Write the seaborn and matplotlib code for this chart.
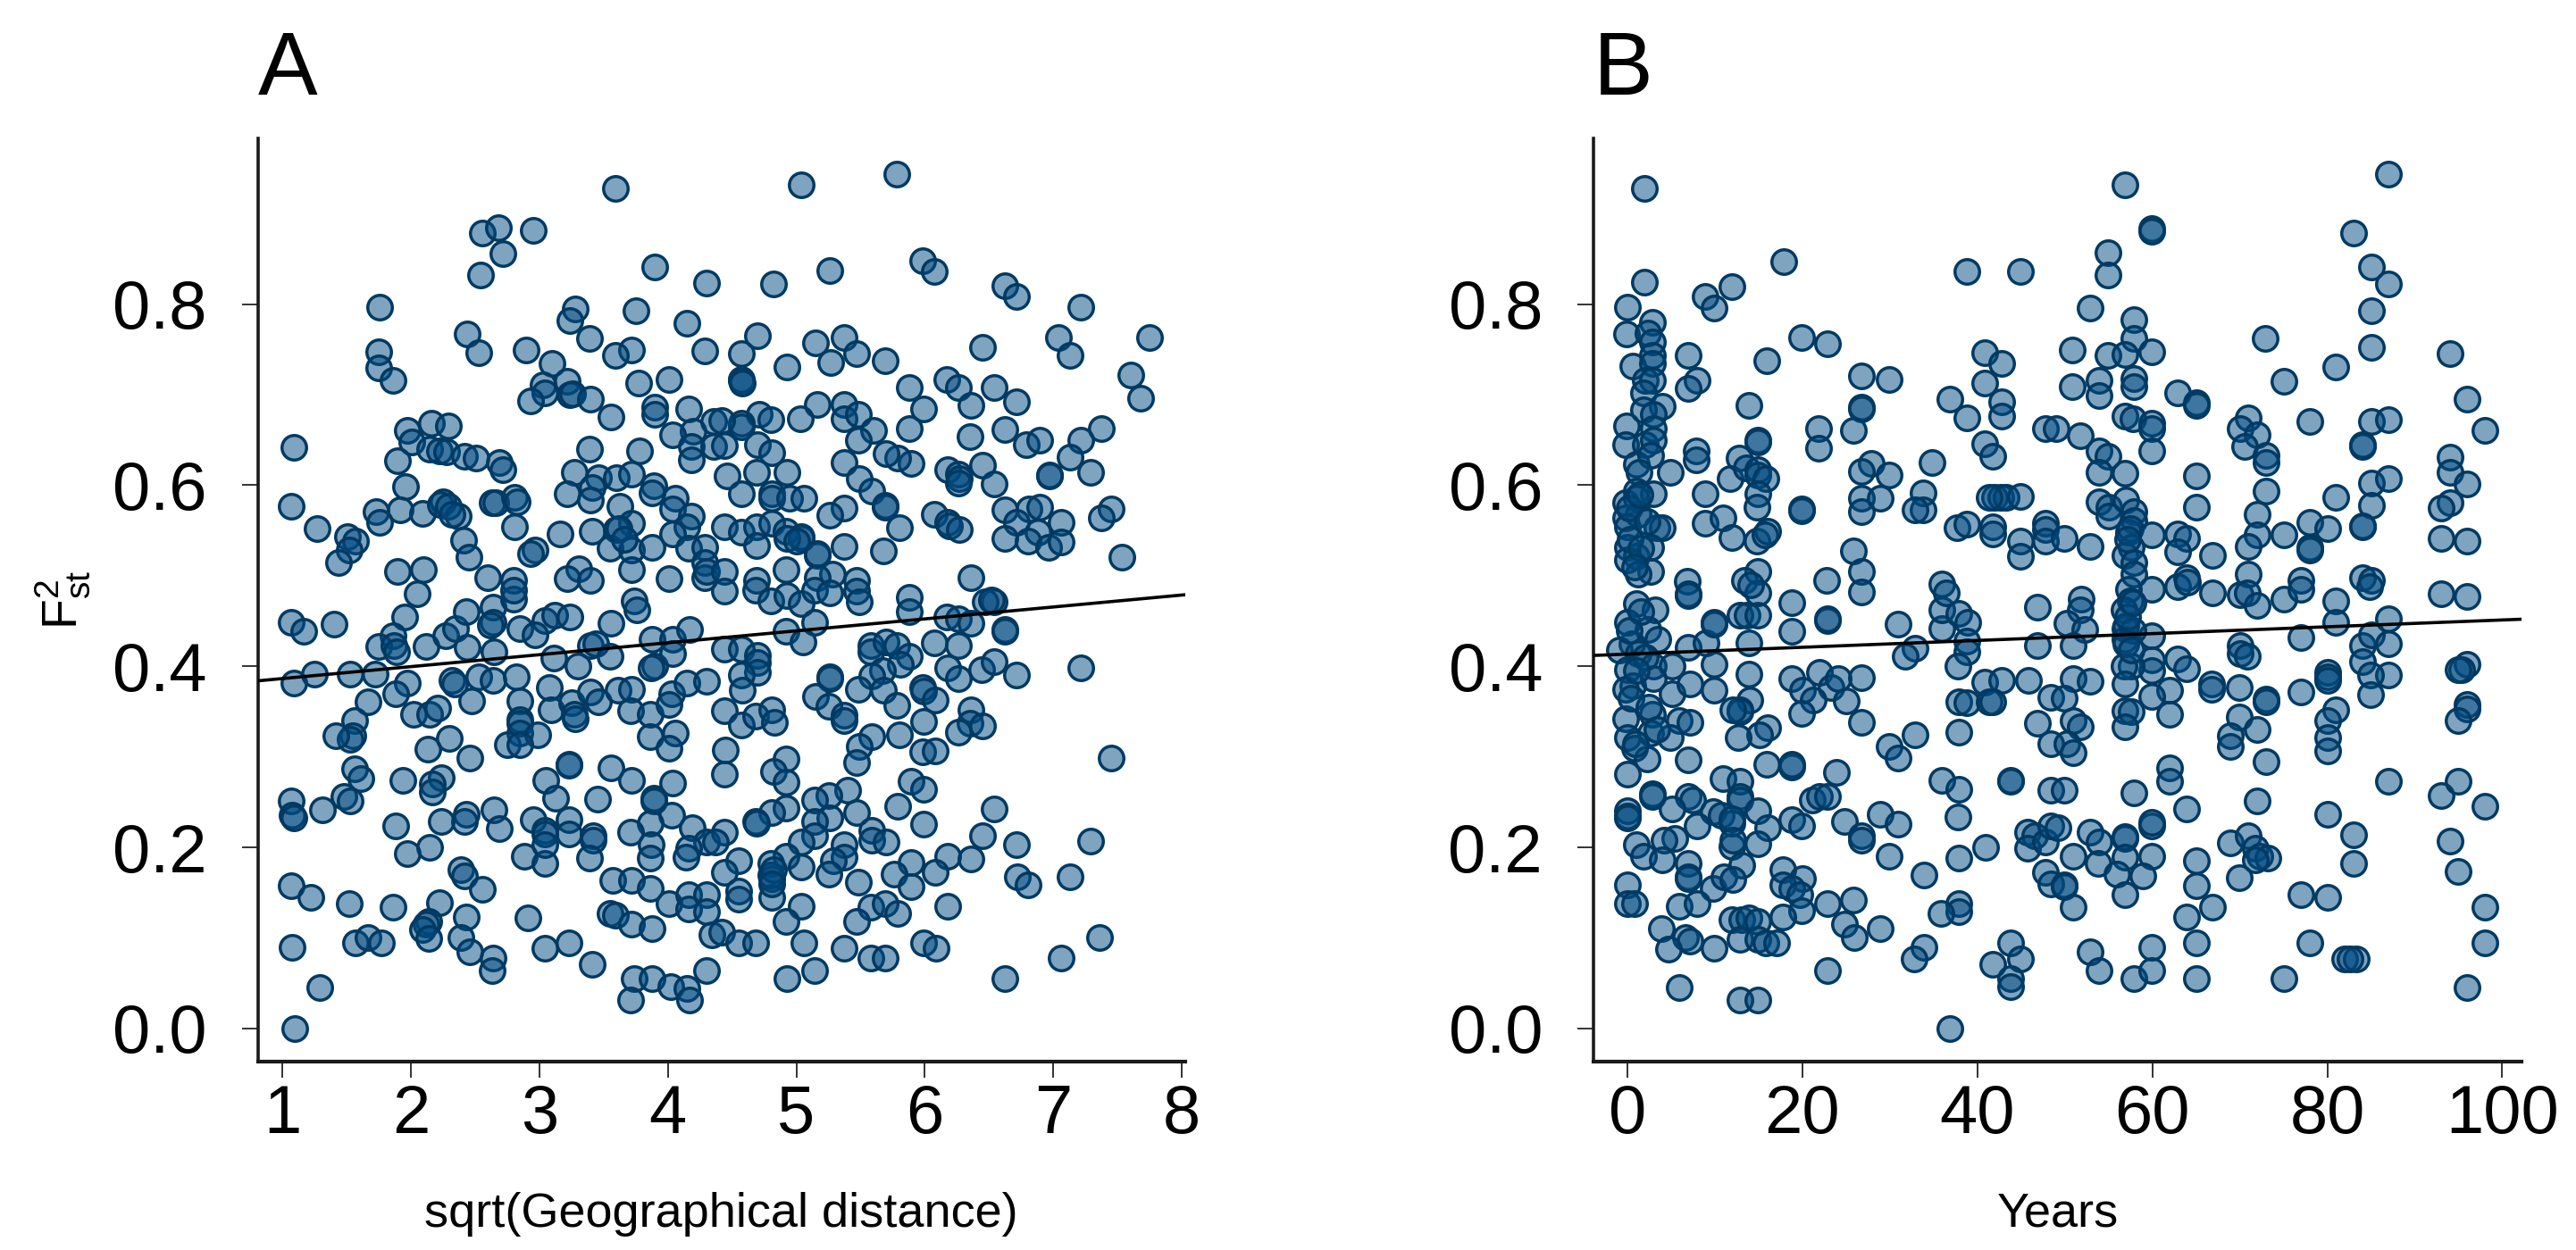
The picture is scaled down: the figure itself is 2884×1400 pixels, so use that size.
import matplotlib
matplotlib.use("Agg")
import matplotlib.pyplot as plt
import seaborn as sns
import pandas as pd

# readings: (distance, Fst2), grouped by region of panel A
a_upper_left = [(3.59,.928),(2.56,.878),(2.68,.884),(2.95,.881),(2.72,.856),(2.54,.832),(3.90,.841),(4.30,.823),
    (1.76,.797),(1.75,.747),(1.75,.730),(1.86,.716),(2.44,.767),(2.53,.746),(2.90,.749),(3.10,.735),(3.28,.795),
    (3.24,.782),(3.39,.762),(3.75,.793),(4.15,.779),(4.29,.748),(3.72,.749),(3.59,.743),(3.77,.713),(4.01,.717),
    (3.03,.711),(3.04,.702),(3.22,.715),(3.24,.700),(3.26,.701),(2.93,.693),(3.40,.695),(3.56,.675),(3.90,.686),
    (3.90,.678),(4.16,.684),(4.20,.660),(4.04,.656),(4.18,.643),(4.18,.628),(4.36,.670),(4.36,.643),(1.09,.642),
    (1.97,.661),(2.16,.668),(2.29,.666),(2.01,.648),(2.15,.640),(2.22,.638),(2.28,.637),(2.42,.632),(2.51,.630),
    (2.69,.625),(2.72,.617),(1.90,.627),(1.96,.598),(1.07,.577),(1.27,.552),(1.73,.571),(1.92,.573),(2.09,.569),
    (1.76,.559),(2.25,.582),(2.23,.579),(2.29,.577),(2.37,.566),(2.32,.568),(2.63,.581),(2.66,.581),(2.81,.587),
    (2.83,.582),(2.81,.554),(2.41,.539),(2.45,.521),(3.39,.640),(3.78,.638),(3.27,.614),(3.46,.608),(3.60,.608),
    (3.72,.612),(3.22,.591),(3.41,.597),(3.40,.584),(3.89,.599),(3.88,.592),(4.06,.586),(4.04,.574),(3.63,.577),
    (4.18,.566),(3.72,.558),(3.60,.551),(3.41,.549),(3.16,.546),(4.15,.554),(4.04,.546),(2.97,.528),(2.93,.525),
    (3.55,.530),(3.72,.528),(3.88,.531),(4.16,.530),(4.29,.531),(4.29,.515),(1.51,.543),(1.57,.538),(1.52,.528),
    (1.44,.515),(1.90,.505),(2.10,.507),(2.60,.498),(2.80,.495),(3.31,.508),(3.22,.497),(3.40,.495),(3.72,.507),
    (4.01,.497),(4.29,.498),(3.62,.552),(3.66,.540),(4.30,.505)]
a_upper_right = [(5.04,.932),(5.78,.944),(4.82,.822),(5.26,.837),(5.98,.848),(6.07,.836),(6.62,.820),(6.71,.808),
    (7.21,.797),(7.04,.763),(7.13,.743),(7.75,.763),(7.60,.722),(7.68,.696),(6.45,.752),(4.70,.765),(4.57,.745),
    (4.57,.717),(4.57,.716),(4.58,.713),(4.93,.731),(5.15,.757),(5.37,.763),(5.27,.736),(5.47,.745),(5.69,.737),
    (5.88,.708),(5.99,.684),(5.88,.663),(6.17,.717),(6.26,.708),(6.36,.688),(6.54,.708),(6.71,.692),(6.35,.654),
    (6.62,.662),(6.79,.645),(6.89,.650),(7.37,.663),(7.21,.650),(7.13,.631),(6.97,.610),(6.97,.611),(7.29,.614),
    (6.45,.622),(6.54,.601),(6.18,.617),(6.26,.612),(6.27,.607),(6.26,.602),(5.89,.624),(5.79,.630),(5.70,.635),
    (5.37,.625),(5.49,.607),(5.59,.594),(5.69,.578),(5.69,.576),(5.80,.553),(5.68,.527),(6.07,.568),(6.18,.559),
    (6.19,.555),(6.27,.551),(5.37,.575),(5.26,.567),(5.37,.532),(5.16,.523),(5.04,.541),(6.62,.573),(6.81,.574),
    (6.89,.576),(6.71,.559),(7.06,.559),(6.88,.548),(6.62,.541),(6.80,.538),(6.96,.531),(7.06,.537),(7.45,.574),
    (7.37,.564),(7.53,.521),(6.36,.498),(5.16,.689),(5.03,.673),(5.37,.689),(5.37,.673),(5.48,.678),(5.60,.661),
    (5.48,.650),(4.71,.678),(4.80,.672),(4.57,.668),(4.57,.665),(4.42,.671),(4.44,.644),(4.70,.645),(4.81,.636),
    (4.46,.610),(4.69,.614),(4.93,.614),(4.57,.591),(4.81,.591),(4.81,.586),(4.95,.586),(5.06,.586),(4.44,.554),
    (4.57,.548),(4.69,.554),(4.81,.558),(4.92,.549),(5.04,.543),(4.69,.533),(4.93,.541),(4.92,.507),(5.28,.502),
    (4.44,.505),(5.16,.498),(4.69,.495),(5.47,.495),(5.00,.538),(5.16,.525)]
a_lower_left = [(1.07,.449),(1.17,.439),(1.40,.447),(1.95,.455),(1.86,.434),(1.75,.422),(1.87,.423),(1.89,.416),
    (2.12,.422),(2.05,.480),(2.27,.434),(2.35,.442),(2.43,.460),(2.44,.421),(2.64,.465),(2.64,.449),(2.62,.446),
    (2.80,.474),(2.80,.484),(2.85,.442),(3.04,.451),(3.12,.456),(3.24,.455),(2.97,.435),(3.56,.448),(3.74,.472),
    (3.76,.462),(3.40,.423),(3.44,.425),(3.55,.411),(3.11,.409),(3.30,.400),(2.65,.416),(3.88,.430),(4.04,.430),
    (4.17,.441),(3.90,.400),(3.87,.398),(4.04,.414),(1.09,.382),(1.25,.391),(1.53,.391),(1.72,.391),(1.97,.382),
    (1.88,.370),(1.67,.361),(1.56,.340),(1.55,.323),(1.53,.319),(1.42,.323),(2.32,.385),(2.34,.381),(2.53,.388),
    (2.64,.385),(2.47,.362),(2.02,.347),(2.15,.347),(2.21,.354),(2.82,.388),(2.85,.362),(2.85,.341),(2.85,.337),
    (2.85,.326),(2.99,.324),(2.75,.314),(2.85,.314),(3.08,.377),(3.09,.352),(3.25,.360),(3.27,.347),(3.28,.342),
    (3.40,.372),(3.46,.361),(3.61,.374),(3.72,.375),(3.71,.351),(3.86,.347),(4.03,.370),(4.01,.358),(3.86,.322),
    (4.06,.326),(4.01,.310),(4.15,.382),(4.30,.384),(2.30,.320),(2.13,.309),(2.46,.299),(1.94,.274),(2.24,.277),
    (2.17,.270),(2.17,.261),(1.56,.287),(1.61,.276),(1.07,.251),(1.08,.236),(1.09,.233),(1.31,.242),(1.48,.256),
    (1.53,.251),(2.43,.237),(2.42,.229),(2.24,.229),(2.65,.242),(2.69,.221),(1.88,.224),(2.15,.200),(1.97,.193),
    (3.23,.292),(3.23,.291),(3.05,.274),(3.13,.254),(3.56,.288),(3.72,.274),(3.45,.253),(4.04,.271),(3.89,.254),
    (3.89,.251),(4.03,.236),(3.86,.227),(3.71,.217),(2.95,.231),(3.04,.219),(3.04,.215),(3.23,.231),(3.23,.215),
    (3.42,.213),(3.42,.208),(2.88,.190),(3.04,.182),(3.04,.203),(3.39,.188),(3.87,.203),(3.86,.188),(4.19,.222),
    (4.30,.206),(4.16,.199),(4.14,.189),(2.39,.175),(2.42,.169),(2.56,.154),(1.07,.158),(1.22,.145),(1.52,.138),
    (1.86,.134),(2.22,.139),(2.14,.118),(2.12,.115),(2.09,.109),(2.14,.100),(2.43,.123),(2.39,.101),(2.46,.085),
    (2.64,.078),(2.63,.064),(1.08,.090),(1.57,.095),(1.67,.101),(1.77,.095),(1.29,.045),(1.10,.000),(2.91,.122),
    (3.04,.089),(3.23,.095),(3.41,.071),(3.57,.164),(3.72,.164),(3.86,.155),(4.01,.138),(4.16,.148),(4.16,.132),
    (4.30,.148),(4.30,.129),(3.55,.127),(3.59,.125),(3.72,.115),(3.88,.110),(3.74,.055),(3.88,.055),(4.02,.046),
    (4.15,.044),(3.71,.032),(4.17,.032),(4.30,.064),(4.34,.104)]
a_lower_right = [(4.44,.483),(4.68,.484),(4.80,.472),(4.93,.478),(5.04,.469),(5.14,.484),(5.26,.481),(5.47,.483),
    (5.49,.471),(5.88,.476),(5.88,.460),(6.54,.471),(6.47,.471),(6.52,.473),(6.17,.455),(6.26,.453),(6.36,.448),
    (6.62,.441),(6.62,.439),(5.14,.449),(4.92,.439),(5.05,.427),(4.44,.419),(4.57,.419),(4.70,.412),(4.70,.404),
    (4.70,.393),(4.57,.390),(4.58,.374),(5.58,.423),(5.58,.416),(5.70,.427),(5.78,.423),(5.88,.411),(5.81,.402),
    (5.67,.395),(5.59,.389),(5.48,.375),(5.68,.374),(5.26,.388),(5.26,.386),(6.07,.426),(6.26,.423),(6.18,.398),
    (6.26,.386),(6.44,.396),(6.54,.405),(6.71,.390),(5.98,.377),(5.99,.373),(6.08,.363),(5.78,.357),(7.21,.398),
    (7.45,.299),(5.15,.367),(5.25,.356),(5.37,.346),(5.37,.340),(4.44,.351),(4.57,.335),(4.68,.345),(4.81,.352),
    (4.83,.338),(4.45,.308),(4.44,.281),(5.99,.339),(6.36,.352),(6.35,.337),(6.45,.334),(6.26,.327),(5.59,.322),
    (5.49,.312),(5.47,.294),(5.80,.324),(5.98,.306),(6.08,.307),(4.92,.298),(4.82,.284),(4.92,.272),(5.40,.263),
    (5.25,.257),(5.14,.252),(5.89,.273),(5.99,.264),(5.79,.245),(4.92,.244),(4.81,.239),(4.68,.229),(4.69,.227),
    (5.47,.239),(5.26,.233),(5.14,.229),(5.14,.213),(5.99,.226),(6.54,.243),(4.44,.217),(4.37,.206),(5.59,.219),
    (5.59,.208),(5.70,.206),(5.04,.206),(5.37,.203),(5.37,.189),(5.29,.185),(5.25,.171),(5.48,.162),(4.92,.190),
    (5.04,.178),(4.80,.182),(4.81,.166),(4.55,.185),(4.44,.173),(4.55,.152),(4.55,.143),(4.81,.145),(6.45,.213),
    (6.18,.190),(6.36,.187),(6.08,.173),(5.89,.183),(5.76,.171),(5.89,.157),(6.71,.203),(6.72,.168),(6.80,.159),
    (7.29,.207),(7.13,.168),(6.18,.135),(5.04,.135),(4.92,.118),(5.58,.134),(5.69,.138),(5.79,.127),(5.47,.118),
    (4.42,.106),(4.55,.095),(4.68,.095),(5.06,.095),(5.37,.089),(5.58,.078),(5.69,.078),(5.99,.095),(6.09,.089),
    (7.36,.101),(7.06,.078),(6.62,.055),(5.14,.064),(4.93,.055),(4.80,.170),(4.82,.175),(4.81,.160)]

# panel B: (years, Fst2)
b_upper_left = [(1.9,.928),(1.9,.824),(0,.797),(-.1,.767),(2.9,.780),(2.3,.768),(2.9,.758),(2.9,.743),(.6,.732),
    (2.9,.735),(2,.716),(2.9,.716),(1.8,.702),(4,.687),(1.8,.683),(3,.678),(3,.663),(-.1,.666),(-.2,.645),(2,.645),
    (3,.650),(1,.623),(2.7,.633),(1.3,.614),(4.9,.614),(1,.594),(3,.591),(-.2,.581),(1,.586),(-.2,.564),(1.2,.568),
    (0,.554),(3.4,.553),(4,.553),(0,.531),(1,.522),(2.7,.531),(0,.518),(2.7,.505),(1.2,.502),(6.9,.743),(8,.716),
    (6.9,.707),(8.9,.808),(9.9,.796),(11.9,.819),(17.9,.847),(19.9,.763),(22.9,.756),(15.9,.737),(13.9,.688),
    (26.8,.721),(29.9,.717),(26.8,.686),(26.8,.684),(25.8,.661),(21.8,.663),(21.8,.641),(14.9,.650),(14.9,.648),
    (7.9,.638),(7.9,.628),(12.8,.630),(11.7,.607),(13.6,.619),(14.9,.617),(14.9,.611),(15.8,.607),(14.9,.591),
    (14.8,.576),(8.9,.591),(8.9,.558),(10.9,.564),(11.9,.542),(14.8,.538),(16,.549),(15.7,.545),(14.9,.505),
    (13.4,.495),(19.9,.574),(19.9,.572),(27.9,.624),(26.8,.615),(29.9,.611),(34.8,.625),(26.8,.586),(28.9,.586),
    (26.8,.571),(33.8,.592),(33.8,.573),(32.9,.573),(25.8,.527),(26.8,.505),(22.8,.495),(6.8,.494),(38.8,.836),
    (44.9,.836),(40.8,.746),(42.8,.735),(40.8,.713),(36.9,.695),(38.8,.674),(42.8,.692),(42.8,.676),(40.8,.646),
    (41.8,.632),(47.8,.663),(42,.587),(42.7,.587),(43.3,.587),(44.9,.588),(41.3,.587),(37.7,.553),(38.8,.557),
    (41.8,.554),(41.8,.546),(47.8,.558),(47.8,.551),(47.8,.538),(44.9,.538),(44.9,.522),(35.9,.491),(.3,.540),
    (1.5,.530),(.8,.510),(.2,.575),(1.4,.590),(2.2,.560)]
b_upper_right = [(56.9,.932),(59.9,.883),(59.9,.880),(54.9,.857),(54.9,.832),(52.9,.796),(57.9,.783),(57.9,.762),
    (50.8,.749),(54.9,.743),(56.9,.744),(59.9,.747),(50.8,.709),(53.9,.716),(53.9,.699),(57.9,.718),(57.9,.709),
    (62.9,.702),(65,.691),(65,.688),(56.9,.676),(57.8,.673),(59.9,.668),(59.9,.663),(49,.663),(51.8,.655),(53.9,.638),
    (54.9,.632),(59.9,.638),(53.9,.614),(56.9,.613),(65,.610),(65,.576),(53.9,.582),(55,.576),(55,.566),(57,.584),
    (57.9,.571),(57.9,.561),(57.3,.548),(57.5,.552),(59.9,.545),(57.6,.531),(56.9,.523),(57.9,.515),(57.9,.502),
    (57.2,.540),(62.9,.546),(63.9,.541),(62.9,.526),(49.9,.541),(52.9,.532),(66.9,.523),(63.9,.498),(71,.674),(70,.663),
    (72,.656),(70.5,.643),(73,.633),(73,.625),(73,.594),(72,.568),(72,.545),(71,.532),(71,.502),(72.9,.762),(75,.715),
    (81,.731),(85,.752),(83,.878),(85,.841),(87,.822),(85,.793),(87,.944),(78,.670),(85,.670),(87,.672),(84,.643),
    (84,.645),(85,.602),(87,.607),(85,.578),(81,.587),(84,.554),(84,.555),(78,.559),(80,.552),(75,.545),(78,.531),
    (78,.528),(94,.745),(96,.695),(98,.661),(94,.631),(94,.614),(96,.601),(94,.581),(93,.575),(93,.541),(96,.538),
    (77,.495),(84,.498),(85,.495)]
b_lower_left = [(6.9,.480),(6.9,.478),(1,.469),(3.2,.462),(0,.449),(2.3,.441),(3.5,.430),(.5,.425),(-.9,.418),
    (1.2,.414),(0,.396),(3,.400),(5.1,.400),(.6,.379),(-.2,.375),(3,.386),(5.1,.370),(7.1,.381),(-.2,.342),(2.9,.347),
    (5.9,.340),(7.1,.338),(0,.321),(.8,.310),(2.7,.326),(4.9,.321),(2.2,.298),(0,.281),(6.9,.297),(6.9,.421),(9,.426),
    (9.9,.449),(9.9,.447),(9.9,.402),(9.9,.374),(12.9,.456),(13.7,.456),(14.9,.456),(13.9,.426),(13.9,.391),(14,.363),
    (12.9,.352),(12.9,.350),(12,.352),(16,.332),(15.1,.324),(12.7,.321),(18.8,.470),(18.8,.439),(22.9,.451),(22.9,.453),
    (14.9,.481),(14.1,.490),(26.8,.482),(30.9,.447),(32.9,.420),(31.8,.411),(18.8,.386),(20,.374),(21.9,.393),
    (23.3,.377),(24.1,.386),(26.8,.387),(25,.362),(21.2,.363),(19.9,.348),(26.8,.338),(29.9,.312),(30.9,.299),
    (32.9,.324),(35.9,.442),(35.9,.462),(36.4,.481),(37.9,.458),(38.9,.449),(38.8,.428),(38.8,.416),(37.8,.400),
    (40.8,.383),(42.8,.385),(45.8,.385),(37.9,.361),(38.8,.360),(41.3,.361),(41.8,.361),(37.9,.327),(46.9,.465),
    (46.9,.423),(46.9,.337),(15.9,.292),(18.8,.289),(18.8,.292),(23.9,.283),(10.9,.276),(12.9,.273),(12.9,.256),
    (12.9,.252),(2.9,.259),(2.9,.256),(6.9,.256),(7.5,.252),(5.1,.243),(0,.241),(0,.235),(0,.233),(9.8,.240),(10.7,.236),
    (11.9,.227),(11.9,.232),(14.9,.241),(8,.224),(16,.222),(18.8,.231),(19.9,.224),(21.1,.252),(21.9,.256),(22.9,.256),
    (5.4,.210),(4.2,.208),(1,.203),(1.8,.190),(4,.186),(11.9,.201),(14.9,.204),(12,.208),(13.1,.180),(24.8,.229),
    (26.8,.213),(26.8,.208),(28.9,.237),(30.9,.226),(29.9,.190),(6.9,.182),(6.9,.168),(6.9,.166),(9.8,.155),(11,.168),
    (12,.165),(0,.159),(0,.138),(.8,.138),(5.9,.135),(8,.138),(17.8,.175),(20,.166),(17.8,.159),(18.8,.155),(19.7,.148),
    (19.9,.130),(17.8,.123),(25.8,.142),(22.9,.138),(11.9,.120),(13.1,.120),(13.9,.122),(14.9,.118),(3.9,.110),
    (6.6,.101),(7.1,.097),(4.7,.088),(9.9,.089),(12.9,.099),(14.9,.099),(15.8,.095),(17,.095),(24.8,.115),(25.9,.101),
    (28.9,.110),(35.9,.274),(37.9,.264),(37.8,.234),(43.8,.274),(43.8,.273),(40.9,.200),(37.9,.188),(33.9,.170),
    (37.9,.138),(37.9,.129),(35.8,.127),(33.9,.090),(32.8,.077),(22.9,.064),(5.9,.045),(12.9,.032),(14.9,.032),
    (36.9,.000),(43.8,.095),(44.9,.077),(41.8,.071),(43.8,.055),(43.8,.046),(45.7,.217),(46.6,.213),(45.7,.199),
    (47.8,.206),(47.8,.173),(48.4,.224),(48.4,.160),(48.4,.263),(48.4,.366),(48.4,.315),(1.5,.460),(.2,.440),(2,.410),
    (1,.395),(.4,.365),(2.4,.355),(3.4,.330),(.9,.315)]
b_lower_right = [(51.9,.474),(51.8,.462),(50.2,.448),(52.3,.441),(50.9,.423),(57.3,.485),(57.5,.472),(56.8,.462),
    (56.9,.442),(56.9,.430),(59.9,.485),(62.9,.488),(64,.493),(66.9,.481),(70,.479),(70.9,.481),(72,.467),(75,.474),
    (77,.485),(81,.472),(81,.449),(84.8,.488),(87,.453),(93,.480),(96,.477),(59.9,.434),(59.9,.407),(59.9,.395),
    (57.6,.400),(56.8,.400),(56.9,.381),(62.9,.408),(63.9,.397),(66.8,.381),(66.8,.375),(62,.374),(59.9,.367),(62,.347),
    (56.9,.351),(57.6,.350),(56.9,.333),(50.9,.386),(52.9,.384),(49.9,.365),(50.9,.340),(51.8,.333),(50.2,.315),
    (50.9,.305),(70,.423),(70,.414),(70.9,.411),(69.9,.377),(73,.364),(73,.361),(69.9,.344),(72,.330),(68.9,.323),
    (68.9,.312),(73,.295),(62,.288),(62,.273),(77,.432),(77,.372),(80,.393),(80,.388),(80,.385),(81,.352),(80,.340),
    (80,.321),(80,.307),(84,.423),(84,.405),(85,.435),(87,.425),(87,.390),(84.9,.390),(84.9,.369),(96,.402),(95.4,.396),
    (94.9,.396),(96,.358),(96,.353),(94.9,.340),(49.9,.263),(57.9,.260),(63.9,.243),(72,.251),(87,.273),(93,.257),
    (95,.273),(98,.245),(80,.237),(83,.214),(83,.182),(94,.207),(95,.174),(49.2,.222),(52.9,.217),(53.9,.206),(50.9,.190),
    (53.8,.182),(56.9,.210),(56.9,.212),(59.9,.224),(59.9,.228),(59.9,.190),(56.9,.189),(55.9,.171),(58.9,.169),
    (49.9,.159),(49.9,.157),(56.9,.148),(50.9,.134),(68.9,.205),(71,.213),(71.8,.199),(72.3,.190),(73.2,.188),(71.8,.186),
    (69.9,.167),(65,.185),(65,.158),(66.9,.134),(63.9,.123),(65,.095),(52.9,.085),(53.9,.064),(57.9,.055),(59.9,.090),
    (59.9,.064),(65,.055),(75,.055),(77,.148),(80,.145),(78,.095),(82,.077),(83.3,.077),(82.6,.077),(98,.134),(98,.095),
    (96,.045),(57,.445),(57.8,.440),(57,.425),(57.6,.418),(57.2,.455),(57.8,.470)]

# fitted lines
a_intercept, a_slope = 0.3733, 0.01318
b_intercept, b_slope = 0.4135, 0.000377

a_xlim = (0.809, 8.026)
b_xlim = (-3.88, 102.2)
ylim = (-0.0365, 0.983)
a_ticks = [1, 2, 3, 4, 5, 6, 7, 8]
b_ticks = [0, 20, 40, 60, 80, 100]
y_ticks = [0.0, 0.2, 0.4, 0.6, 0.8]

sns.set_theme(style="ticks")
plt.rcParams["font.family"] = ["Liberation Sans", "DejaVu Sans"]
plt.rcParams["mathtext.fontset"] = "custom"
plt.rcParams["mathtext.rm"] = "Liberation Sans"
plt.rcParams["mathtext.it"] = "Liberation Sans"

W, H = 2884, 1400
fig = plt.figure(figsize=(W / 200, H / 200), dpi=200)
ax_a = fig.add_axes([288.5 / W, (H - 1189) / H, 1038.5 / W, 1034 / H])
ax_b = fig.add_axes([1784 / W, (H - 1189) / H, 1039 / W, 1034 / H])

fill = (0.0, 0.29, 0.5, 0.5)
edge = "#003a63"


def draw(ax, groups, intercept, slope, xlim, xticks, letter, xlabel):
    pts = pd.DataFrame([p for g in groups for p in g], columns=["x", "fst"])
    sns.scatterplot(data=pts, x="x", y="fst", ax=ax, s=98, facecolor=fill,
                    edgecolor=edge, linewidth=1.25, clip_on=False, zorder=2)
    line = pd.DataFrame({"x": list(xlim)})
    line["y"] = intercept + slope * line["x"]
    sns.lineplot(data=line, x="x", y="y", ax=ax, color="black", linewidth=1.3,
                 zorder=3, errorbar=None)
    ax.set_xlim(xlim)
    ax.set_ylim(ylim)
    ax.set_xticks(xticks)
    ax.set_yticks(y_ticks)
    ax.set_yticklabels([f"{v:.1f}" for v in y_ticks])
    ax.spines["top"].set_visible(False)
    ax.spines["right"].set_visible(False)
    ax.spines["left"].set_linewidth(1.3)
    ax.spines["bottom"].set_linewidth(1.5)
    ax.spines["left"].set_color("#1a1a1a")
    ax.spines["bottom"].set_color("#1a1a1a")
    ax.tick_params(axis="both", length=6.5, width=0.7, color="#333333",
                   labelsize=27.3, labelcolor="black")
    ax.tick_params(axis="x", pad=2.5)
    ax.tick_params(axis="y", pad=14)
    ax.set_xlabel(xlabel, fontsize=19.5, labelpad=18, color="black")
    ax.set_ylabel("")
    ax.text(0.0, 1.027, letter, transform=ax.transAxes, fontsize=36,
            color="black", ha="left", va="bottom")


draw(ax_a, [a_upper_left, a_upper_right, a_lower_left, a_lower_right],
     a_intercept, a_slope, a_xlim, a_ticks, "A", "sqrt(Geographical distance)")
draw(ax_b, [b_upper_left, b_upper_right, b_lower_left, b_lower_right],
     b_intercept, b_slope, b_xlim, b_ticks, "B", "Years")

fig.text(70 / W, 1 - 672 / H, r"$\mathrm{F}^{2}_{\mathrm{st}}$", rotation=90,
         fontsize=20, color="black", ha="center", va="center")

fig.savefig("out.png", dpi=200, facecolor="white")
